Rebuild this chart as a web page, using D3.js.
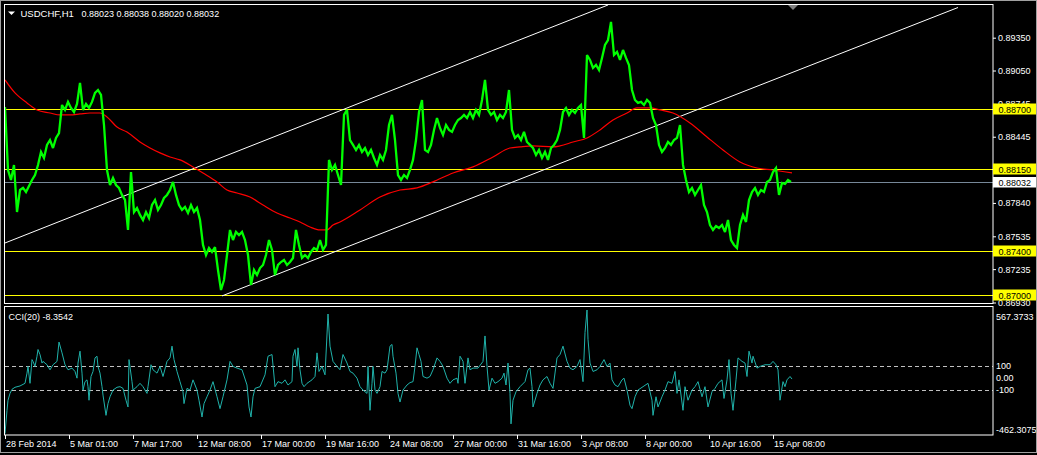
<!DOCTYPE html>
<html><head><meta charset="utf-8">
<script src="https://cdn.jsdelivr.net/npm/d3@7"></script>
<style>html,body{margin:0;padding:0;background:#000;overflow:hidden}svg{display:block}</style>
</head><body><svg id="c" width="1037" height="455"></svg>
<script>
const symbolTitle = "USDCHF,H1";
const ohlcTitle = "0.88023 0.88038 0.88020 0.88032";
const cciTitle = "CCI(20) -8.3542";
const timeTickBars = [0,64,128,192,256,320,384,448,512,576,640,704,768];
const timeTickLabels = ["28 Feb 2014","5 Mar 01:00","7 Mar 17:00","12 Mar 08:00","17 Mar 00:00","19 Mar 16:00","24 Mar 08:00","27 Mar 00:00","31 Mar 16:00","3 Apr 08:00","8 Apr 00:00","10 Apr 16:00","15 Apr 08:00"];
const priceTicks = [0.89350,0.89050,0.88745,0.88445,0.88140,0.87840,0.87535,0.87235,0.86930];
const levelPrices = [0.88700,0.88150,0.87400,0.87000];
const bidPrice = 0.88032;
const priceStep = 3;
const priceClose = [
0.88717,0.88141,0.88050,0.88187,0.87757,0.87958,0.87977,0.87940,0.87995,0.88050,
0.88095,0.88187,0.88306,0.88251,0.88370,0.88415,0.88342,0.88434,0.88479,0.88735,
0.88690,0.88763,0.88708,0.88671,0.88744,0.88936,0.88690,0.88744,0.88708,0.88763,
0.88845,0.88872,0.88827,0.88552,0.88141,0.88004,0.88068,0.88004,0.87977,0.87913,
0.87867,0.87593,0.88123,0.87757,0.87794,0.87730,0.87684,0.87757,0.87702,0.87821,
0.87867,0.87776,0.87821,0.87885,0.87913,0.87958,0.88032,0.87913,0.87821,0.87776,
0.87803,0.87748,0.87821,0.87757,0.87794,0.87684,0.87456,0.87364,0.87428,0.87392,
0.87437,0.87227,0.87044,0.87136,0.87364,0.87593,0.87501,0.87575,0.87547,0.87575,
0.87501,0.87364,0.87090,0.87227,0.87181,0.87245,0.87273,0.87364,0.87501,0.87410,
0.87181,0.87273,0.87300,0.87319,0.87273,0.87300,0.87337,0.87593,0.87456,0.87337,
0.87364,0.87337,0.87392,0.87428,0.87410,0.87501,0.87410,0.87456,0.88233,0.88141,
0.88187,0.88095,0.88004,0.88644,0.88690,0.88415,0.88370,0.88324,0.88370,0.88306,
0.88342,0.88278,0.88324,0.88251,0.88187,0.88278,0.88233,0.88324,0.88552,0.88644,
0.88415,0.88095,0.88050,0.88095,0.88068,0.88141,0.88233,0.88415,0.88671,0.88781,
0.88324,0.88306,0.88370,0.88507,0.88616,0.88525,0.88461,0.88552,0.88507,0.88489,
0.88552,0.88598,0.88616,0.88644,0.88616,0.88671,0.88616,0.88690,0.88644,0.88781,
0.88964,0.88690,0.88644,0.88671,0.88598,0.88644,0.88616,0.88671,0.88872,0.88507,
0.88434,0.88461,0.88415,0.88489,0.88397,0.88370,0.88342,0.88278,0.88324,0.88251,
0.88306,0.88233,0.88342,0.88370,0.88415,0.88507,0.88671,0.88708,0.88644,0.88690,
0.88662,0.88708,0.88735,0.88434,0.89192,0.89147,0.89073,0.89101,0.89055,0.89165,
0.89284,0.89329,0.89494,0.89192,0.89220,0.89147,0.89238,0.89165,0.89101,0.88872,
0.88781,0.88754,0.88763,0.88735,0.88781,0.88754,0.88616,0.88552,0.88370,0.88306,
0.88342,0.88397,0.88370,0.88415,0.88434,0.88552,0.88187,0.88050,0.87940,0.87977,
0.87913,0.87958,0.88004,0.87821,0.87757,0.87638,0.87593,0.87629,0.87611,0.87638,
0.87575,0.87684,0.87501,0.87456,0.87428,0.87638,0.87730,0.87666,0.87867,0.87940,
0.87977,0.87913,0.87958,0.87940,0.88032,0.88050,0.88123,0.88159,0.87913,0.88022,
0.88013,0.88050,0.88032];
const maBar = [0,10,22,32,45,55,65,75,85,95,102,112,122,135,145,155,165,175,188,198,212,222,232,245,258,272,285,295,305,315,322,328,335,355,375,395,412,428,448,468,488,505,515,528,548,555,568,582,595,608,622,632,645,655,668,685,702,718,735,752,768,787];
const maValue = [0.88964,0.88845,0.88754,0.88690,0.88662,0.88644,0.88644,0.88653,0.88662,0.88662,0.88626,0.88534,0.88488,0.88397,0.88342,0.88297,0.88260,0.88233,0.88169,0.88114,0.88032,0.87958,0.87931,0.87894,0.87821,0.87748,0.87702,0.87666,0.87620,0.87593,0.87593,0.87638,0.87666,0.87776,0.87894,0.87958,0.87977,0.88032,0.88114,0.88169,0.88260,0.88342,0.88352,0.88361,0.88352,0.88361,0.88397,0.88434,0.88507,0.88598,0.88662,0.88708,0.88708,0.88690,0.88662,0.88571,0.88443,0.88324,0.88214,0.88159,0.88141,0.88114];
const cciBar = [0,2,3,5,7,10,15,20,22,23,25,27,28,30,32,33,35,37,38,42,45,48,52,54,57,60,63,67,70,72,73,75,77,78,80,82,83,84,86,88,90,92,93,95,97,98,101,103,105,108,112,115,118,121,123,124,127,128,132,135,138,142,143,146,148,152,155,158,162,165,167,169,172,175,178,179,182,185,188,192,194,197,199,202,205,208,212,215,218,222,225,228,232,237,242,244,246,248,250,255,260,263,267,270,273,277,280,283,287,288,290,292,293,295,297,299,302,307,310,312,314,317,320,323,325,328,332,335,338,342,345,348,352,355,358,362,363,365,367,368,370,372,375,377,380,382,385,387,388,391,393,395,398,402,405,408,410,412,414,416,418,422,425,428,432,435,438,442,445,448,452,453,455,457,458,460,463,465,468,473,478,480,482,484,487,490,493,497,499,501,503,505,506,508,511,515,520,523,525,527,528,532,535,538,542,545,548,552,555,558,562,565,568,572,575,578,580,582,583,585,588,592,595,599,602,605,607,610,613,617,619,622,625,627,630,633,638,643,647,648,651,653,657,660,663,667,670,672,674,678,680,683,687,690,693,697,700,703,707,710,713,717,719,722,724,726,728,731,733,737,740,742,744,747,748,752,755,760,765,768,771,773,775,778,780,782,785,787];
const cciValue = [-462.31,-269,-185,-128,-94,-77,-66,-44,41,97,-44,154,139,97,182,238,196,125,139,111,69,111,139,300,210,111,69,83,55,-1,125,224,41,-100,-30,-15,-72,-185,13,55,168,182,97,41,-72,-142,-311,-213,-156,-100,-77,-72,-86,-185,-241,154,-30,-100,-72,-44,-72,-128,-72,111,69,41,97,13,139,168,266,154,55,-30,-114,-213,-86,-100,-15,-100,-185,-325,-213,-156,-100,-30,-156,-255,-156,-15,139,97,83,69,-58,-241,-325,-156,-86,-72,27,182,196,-72,-30,-44,-15,-58,-30,182,238,97,252,69,-44,-72,-44,-15,13,210,55,97,27,534,266,139,97,69,196,125,55,41,-1,-72,-100,-128,97,-269,-44,97,-100,-128,-72,55,41,69,266,280,182,41,-128,-200,-100,-58,-38,-30,97,252,196,139,13,-1,13,69,168,139,97,-1,-44,-15,-1,-44,182,154,139,-44,168,69,83,83,139,351,97,-100,-1,-44,-30,-1,41,-58,125,-128,-382,-185,-114,-72,-30,69,83,-72,-241,-128,-58,-15,13,-44,-86,168,196,266,139,83,69,97,154,-30,379,567.3733,323,125,55,69,97,154,97,125,-15,-58,-72,-15,-1,-100,-227,-255,-156,-100,-72,-44,-185,-311,-156,-241,-156,-100,-30,-44,55,-128,-15,-269,-72,-185,-100,-72,-30,-156,-72,-241,-114,-86,-44,-15,-170,-15,154,-128,-269,-15,168,139,125,13,224,125,182,83,97,111,111,139,111,69,-185,-30,-72,-15,13,-8.3542];
const cciTicks = [567.3733,100,0,-100,-462.3075];
const cciTickLabels = ["567.3733","100","0.00","-100","-462.3075"];
const cciLevels = [100,-100];
const channelBars = [[0,603],[217,953]];
const channelPrices = [[0.87474,0.89649],[0.86990,0.89626]];

const FONT = "'Liberation Sans', Arial, sans-serif";
const svg = d3.select("#c");
const W = 1037, H = 455;
const L = 5, R = 993, mainTop = 4, mainBot = 303, cciTop = 306.5, cciBot = 435;

svg.append("rect").attr("width", W).attr("height", H).attr("fill", "#000");

const x = d3.scaleLinear().domain([0, 988]).range([L, R]);
const yP = d3.scaleLinear().domain([0.86930, 0.89658]).range([302.5, 4]);
const yC = d3.scaleLinear().domain([-462.3075, 567.3733]).range([433.5, 310]);

const defs = svg.append("defs");
defs.append("clipPath").attr("id", "cm").append("rect").attr("x", L).attr("y", mainTop + 1).attr("width", R - L).attr("height", mainBot - mainTop - 1);
defs.append("clipPath").attr("id", "cc").append("rect").attr("x", L).attr("y", cciTop + 1).attr("width", R - L).attr("height", cciBot - cciTop - 1);

const gm = svg.append("g").attr("clip-path", "url(#cm)");
gm.selectAll("line.lvl").data(levelPrices).join("line")
  .attr("x1", L).attr("x2", R).attr("y1", d => Math.round(yP(d)) + 0.5).attr("y2", d => Math.round(yP(d)) + 0.5)
  .attr("stroke", "#ffff00").attr("stroke-width", 1);
gm.append("line").attr("x1", L).attr("x2", R).attr("y1", Math.round(yP(bidPrice)) + 0.5).attr("y2", Math.round(yP(bidPrice)) + 0.5)
  .attr("stroke", "#778899").attr("stroke-width", 1);
channelBars.forEach((b, i) => {
  gm.append("line").attr("x1", x(b[0])).attr("x2", x(b[1]))
    .attr("y1", yP(channelPrices[i][0])).attr("y2", yP(channelPrices[i][1]))
    .attr("stroke", "#ffffff").attr("stroke-width", 1);
});
gm.append("path").datum(maBar.map((b, i) => [b, maValue[i]]))
  .attr("d", d3.line().x(d => x(d[0])).y(d => yP(d[1])).curve(d3.curveMonotoneX))
  .attr("fill", "none").attr("stroke", "#ff0000").attr("stroke-width", 1.2);
gm.append("path").datum(priceClose)
  .attr("d", d3.line().x((d, i) => x(i * priceStep)).y(d => yP(d)))
  .attr("fill", "none").attr("stroke", "#00ff00").attr("stroke-width", 2.3).attr("stroke-linejoin", "miter").attr("stroke-miterlimit", 3);

const gc = svg.append("g").attr("clip-path", "url(#cc)");
gc.selectAll("line.lv").data(cciLevels).join("line")
  .attr("x1", L).attr("x2", R).attr("y1", d => Math.round(yC(d)) + 0.5).attr("y2", d => Math.round(yC(d)) + 0.5)
  .attr("stroke", "#c0c0c0").attr("stroke-width", 1).attr("stroke-dasharray", "4,3");
gc.append("path").datum(cciBar.map((b, i) => [b, cciValue[i]]))
  .attr("d", d3.line().x(d => x(d[0])).y(d => yC(d[1])))
  .attr("fill", "none").attr("stroke", "#20b2aa").attr("stroke-width", 1);

svg.append("rect").attr("x", 4.5).attr("y", mainTop + 0.5).attr("width", R - 4.5).attr("height", mainBot - mainTop)
  .attr("fill", "none").attr("stroke", "#fff");
svg.append("rect").attr("x", 4.5).attr("y", cciTop).attr("width", R - 4.5).attr("height", cciBot - cciTop)
  .attr("fill", "none").attr("stroke", "#fff");

const pa = svg.append("g").attr("transform", `translate(${R},0)`)
  .call(d3.axisRight(yP).tickValues(priceTicks).tickSize(3).tickPadding(2).tickFormat(d3.format(".5f")));
pa.select(".domain").remove();
pa.selectAll("line").attr("stroke", "#fff");
pa.selectAll("text").attr("fill", "#fff").attr("font-family", FONT).attr("font-size", "9px");

const lab = svg.append("g");
levelPrices.forEach(p => {
  const yy = Math.round(yP(p));
  lab.append("rect").attr("x", R).attr("y", yy - 5.5).attr("width", 43).attr("height", 11).attr("fill", "#ffff00");
  lab.append("text").attr("x", 998.5).attr("y", yy + 3.5).attr("fill", "#000").attr("font-family", FONT).attr("font-size", "9px").text(d3.format(".5f")(p));
});
{
  const yy = Math.round(yP(bidPrice));
  lab.append("rect").attr("x", R).attr("y", yy - 5).attr("width", 43).attr("height", 10.5).attr("fill", "#ffffff");
  lab.append("text").attr("x", 998.5).attr("y", yy + 3.5).attr("fill", "#000").attr("font-family", FONT).attr("font-size", "9px").text(d3.format(".5f")(bidPrice));
}

const ca = svg.append("g").attr("transform", `translate(${R},0)`)
  .call(d3.axisRight(yC).tickValues(cciTicks).tickSize(0).tickPadding(3).tickFormat((d, i) => cciTickLabels[i]));
ca.select(".domain").remove();
ca.selectAll("text").attr("fill", "#fff").attr("font-family", FONT).attr("font-size", "9px")
  .attr("dy", (d, i) => i === 0 ? "1.0em" : (i === cciTicks.length - 1 ? "-0.15em" : "0.32em"));

const ta = svg.append("g").attr("transform", `translate(0,${cciBot})`)
  .call(d3.axisBottom(x).tickValues(timeTickBars).tickSize(4).tickPadding(2).tickFormat((d, i) => timeTickLabels[i]));
ta.select(".domain").remove();
ta.selectAll("line").attr("stroke", "#fff");
ta.selectAll("text").attr("fill", "#fff").attr("font-family", FONT).attr("font-size", "9px").attr("text-anchor", "start").attr("dx", "0.5");

svg.append("path").attr("d", "M8,11.5 L15,11.5 L11.5,15 Z").attr("fill", "#fff");
svg.append("text").attr("x", 20.5).attr("y", 16.5).attr("fill", "#fff").attr("font-family", FONT).attr("font-size", "9.5px").text(symbolTitle);
svg.append("text").attr("x", 81.5).attr("y", 16.5).attr("fill", "#fff").attr("font-family", FONT).attr("font-size", "9px").text(ohlcTitle);
svg.append("text").attr("x", 8.5).attr("y", 319.5).attr("fill", "#fff").attr("font-family", FONT).attr("font-size", "9px").text(cciTitle);

svg.append("path").attr("d", "M788,5 L798,5 L793,10 Z").attr("fill", "#808080");

svg.append("rect").attr("x", 0.5).attr("y", 0.5).attr("width", W - 1).attr("height", H - 3).attr("fill", "none").attr("stroke", "#a0a0a0");
</script></body></html>
